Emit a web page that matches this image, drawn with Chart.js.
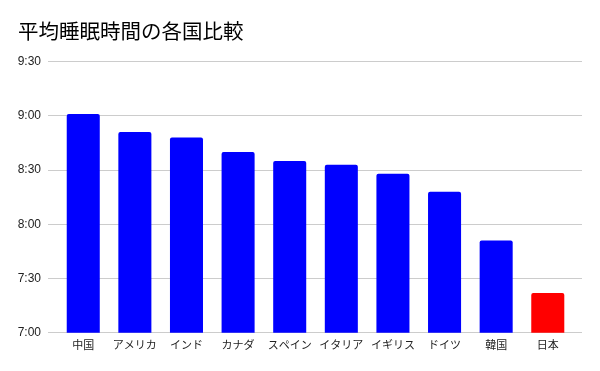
<!DOCTYPE html>
<html>
<head>
<meta charset="utf-8">
<script src="https://cdn.jsdelivr.net/npm/chart.js@4"></script>
<style>
  html, body { margin: 0; padding: 0; background: #fff; }
  #wrap { width: 600px; height: 371px; }
</style>
</head>
<body>
<div id="wrap"><canvas id="sleep-chart"></canvas></div>
<script>
const categories = ['中国', 'アメリカ', 'インド', 'カナダ', 'スペイン', 'イタリア', 'イギリス', 'ドイツ', '韓国', '日本'];
// average sleep per day, in minutes
const sleepMinutes = [541, 531, 528, 520, 515, 513, 508, 498, 471, 442];
const yTicks = [420, 450, 480, 510, 540, 570];

const fmtTime = (m) => `${Math.floor(m / 60)}:${String(m % 60).padStart(2, '0')}`;
const fontFamily = "Arial, 'Liberation Sans', 'Noto Sans CJK JP', sans-serif";

const ctx = document.getElementById('sleep-chart').getContext('2d');

const sleepChart = new Chart(ctx, {
    type: 'bar',
    data: {
        datasets: [{
            label: '平均睡眠時間',
            data: categories.map((c, i) => ({ x: i, y: sleepMinutes[i] })),
            backgroundColor: categories.map(c => c === '日本' ? '#ff0000' : '#0000ff'),
            borderRadius: 2,
            borderSkipped: 'bottom',
            barPercentage: 0.64,
            categoryPercentage: 1
        }]
    },
    options: {
        responsive: true,
        maintainAspectRatio: false,
        animation: false,
        layout: { padding: { left: 18, right: 18, top: 0, bottom: 11 } },
        plugins: {
            legend: { display: false },
            tooltip: { enabled: false },
            title: {
                display: true,
                text: '平均睡眠時間の各国比較',
                align: 'start',
                color: '#000',
                font: { family: "'Noto Sans CJK JP', sans-serif", size: 20.5, weight: 'normal' },
                padding: { top: 19, bottom: 18 }
            }
        },
        scales: {
            x: {
                type: 'linear',
                offset: false,
                min: -0.683,
                max: 9.663,
                grid: { display: false, drawTicks: false },
                border: { display: false },
                ticks: {
                    stepSize: 1,
                    includeBounds: false,
                    autoSkip: false,
                    maxRotation: 0,
                    padding: 7,
                    color: '#222',
                    font: { family: fontFamily, size: 11 },
                    callback: (v) => Number.isInteger(v) ? categories[v] : ''
                }
            },
            y: {
                min: yTicks[0],
                max: yTicks[yTicks.length - 1],
                afterBuildTicks: (scale) => { scale.ticks = yTicks.map(v => ({ value: v })); },
                afterFit: (scale) => { scale.width = 30; },
                grid: { color: '#cccccc', drawTicks: false },
                border: { display: false },
                ticks: {
                    padding: 7,
                    color: '#222',
                    font: { family: fontFamily, size: 12 },
                    callback: (v) => fmtTime(v)
                }
            }
        }
    }
});
</script>
</body>
</html>
